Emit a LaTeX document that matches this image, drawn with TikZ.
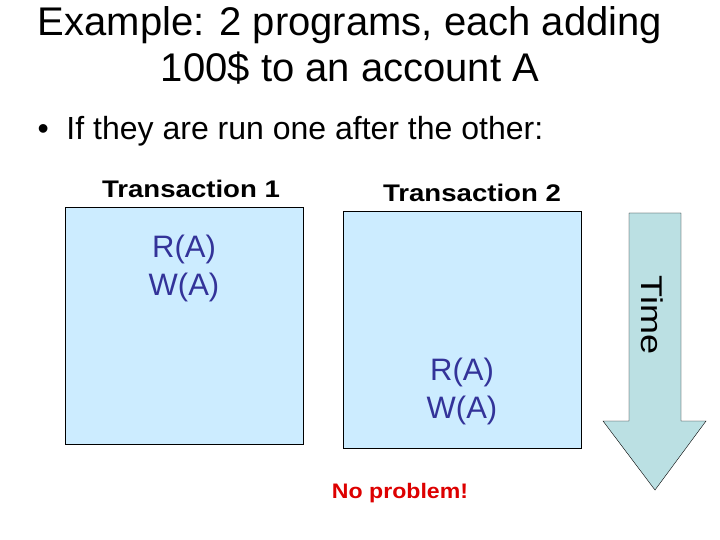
\documentclass[tikz,border=0pt]{standalone}
\usepackage{fontspec}
\setmainfont{Liberation Sans}
\begin{document}
\begin{tikzpicture}[
    x=1pt, y=-1pt,
    trans/.style={draw, fill=txfill, minimum width=238pt, minimum height=237pt, inner sep=0pt},
    hdr/.style={font=\fontsize{24}{26}\selectfont\bfseries\addfontfeature{FakeStretch=1.15}},
    op/.style={align=center, text=opblue, font=\fontsize{31}{38}\selectfont},
]
\definecolor{txfill}{HTML}{CCECFF}
\definecolor{opblue}{HTML}{333399}
\definecolor{timefill}{HTML}{BBE0E3}
\definecolor{okred}{HTML}{DD0000}
\useasboundingbox[fill=white] (0,0) rectangle (720,540);

\node[align=center, font=\fontsize{40}{46}\selectfont] (title) at (350,45) {Example: 2 programs, each adding\\100\$ to an account A};
\node[anchor=west, font=\fontsize{32}{36}\selectfont] (bullet) at (34,131) {\textbullet\ \ If they are run one after the other:};

\node[hdr] (hdr1) at (191,189) {Transaction 1};
\node[hdr] (hdr2) at (472,193) {Transaction 2};

\node[trans] (t1) at (184.5,326) {};
\node[trans] (t2) at (462,330) {};

\node[op] (ops1) at (184,268) {R(A)\\W(A)};
\node[op] (ops2) at (462,391) {R(A)\\W(A)};

% time arrow
\draw[fill=timefill] (629,213) -- (681,213) -- (681,421) -- (706,421) -- (655,490)
    -- (603,421) -- (629,421) -- cycle;
\node[rotate=-90, font=\fontsize{30}{32}\selectfont\addfontfeature{FakeStretch=1.2}] (time) at (652,315) {Time};

\node[text=okred, font=\fontsize{21}{24}\selectfont\bfseries\addfontfeature{FakeStretch=1.1}] (ok) at (400,493) {No problem!};
\end{tikzpicture}
\end{document}
